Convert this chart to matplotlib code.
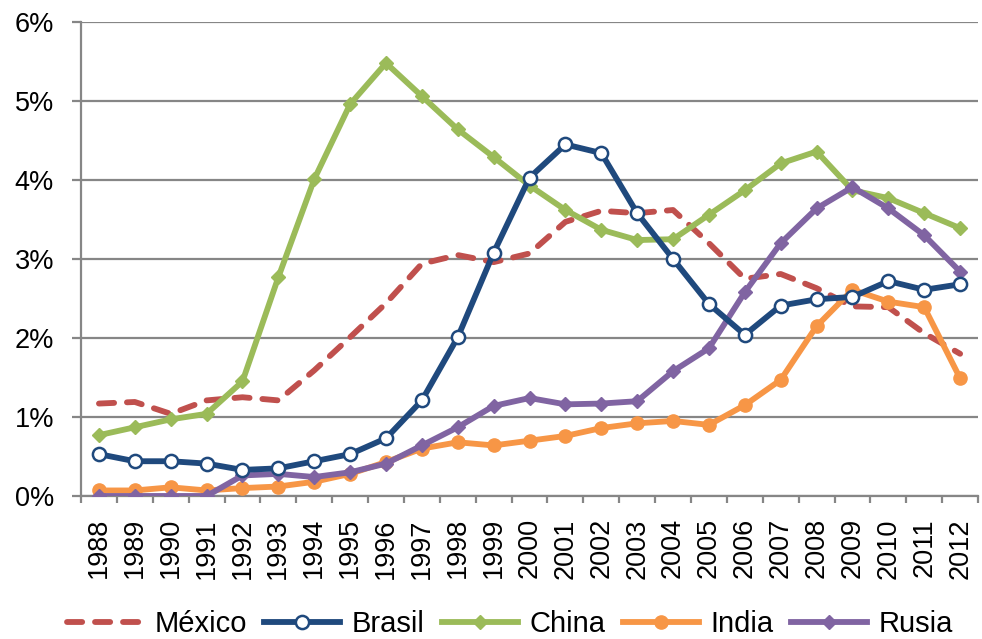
import matplotlib
matplotlib.use("Agg")
import matplotlib.pyplot as plt
import numpy as np

years = [str(y) for y in range(1988, 2013)]

mexico = [1.17, 1.19, 1.04, 1.21, 1.25, 1.21, 1.59, 2.01, 2.44, 2.94, 3.05, 2.96,
          3.07, 3.47, 3.61, 3.58, 3.62, 3.20, 2.75, 2.81, 2.63, 2.40, 2.39, 2.06, 1.80]
brasil = [0.53, 0.44, 0.44, 0.41, 0.33, 0.35, 0.44, 0.53, 0.73, 1.21, 2.01, 3.08,
          4.03, 4.45, 4.34, 3.58, 3.00, 2.43, 2.04, 2.41, 2.49, 2.52, 2.72, 2.61, 2.68]
china = [0.77, 0.87, 0.97, 1.04, 1.45, 2.77, 4.01, 4.96, 5.48, 5.06, 4.64, 4.29,
         3.93, 3.62, 3.37, 3.24, 3.25, 3.56, 3.87, 4.21, 4.36, 3.87, 3.77, 3.58, 3.39]
india = [0.07, 0.07, 0.11, 0.07, 0.10, 0.12, 0.18, 0.28, 0.43, 0.60, 0.68, 0.64,
         0.70, 0.76, 0.86, 0.92, 0.95, 0.90, 1.15, 1.47, 2.15, 2.61, 2.46, 2.39, 1.49]
rusia = [0.0, 0.0, 0.0, 0.0, 0.26, 0.28, 0.24, 0.30, 0.41, 0.64, 0.87, 1.14,
         1.24, 1.16, 1.17, 1.20, 1.58, 1.87, 2.58, 3.20, 3.64, 3.91, 3.64, 3.30, 2.84]

plt.rcParams["font.family"] = ["Liberation Sans", "DejaVu Sans"]

fig = plt.figure(figsize=(9.82, 6.39), dpi=100)
ax = fig.add_axes([0.0825, 0.2238, 0.9135, 0.7418])

x = np.arange(len(years))
lw = 4.2
grid_c = "#868686"

ax.plot(x, mexico, color="#C0504D", lw=lw, dashes=(2.6, 2.2),
        dash_capstyle="round", label="México", zorder=3)
ax.plot(x, brasil, color="#1F497D", lw=lw, marker="o", markersize=9.5,
        markerfacecolor="white", markeredgecolor="#1F497D", markeredgewidth=1.8,
        label="Brasil", zorder=4)
ax.plot(x, china, color="#9BBB59", lw=lw, marker="D", markersize=7,
        label="China", zorder=3)
ax.plot(x, india, color="#F79646", lw=lw, marker="o", markersize=9.5,
        label="India", zorder=3)
ax.plot(x, rusia, color="#8064A2", lw=lw, marker="D", markersize=7,
        label="Rusia", zorder=3)

ax.set_xlim(-0.5, len(years) - 0.5)
ax.set_ylim(0, 6)
ax.set_yticks(range(7))
ax.set_yticklabels([f"{v}%" for v in range(7)])
ax.set_xticks(x)
ax.set_xticklabels(years, rotation=90)
ax.set_xticks(np.arange(len(years) + 1) - 0.5, minor=True)

ax.grid(axis="y", color=grid_c, lw=1.6, zorder=0)
ax.set_axisbelow(True)
for s in ["top", "right"]:
    ax.spines[s].set_visible(False)
for s in ["left", "bottom"]:
    ax.spines[s].set_color(grid_c)
    ax.spines[s].set_linewidth(1.6)

ax.tick_params(axis="y", length=6.5, width=1.6, color=grid_c, pad=13,
               labelsize=19.5)
ax.tick_params(axis="x", which="major", length=0, pad=16, labelsize=19.5)
ax.tick_params(axis="x", which="minor", length=5, width=1.6, color=grid_c)

fig.legend(loc="center", bbox_to_anchor=(510 / 982, 1 - 624 / 639), ncol=5,
           frameon=False, fontsize=21, handlelength=2.6, handletextpad=0.4,
           columnspacing=0.6, borderpad=0)

fig.savefig("out.png", dpi=100)
